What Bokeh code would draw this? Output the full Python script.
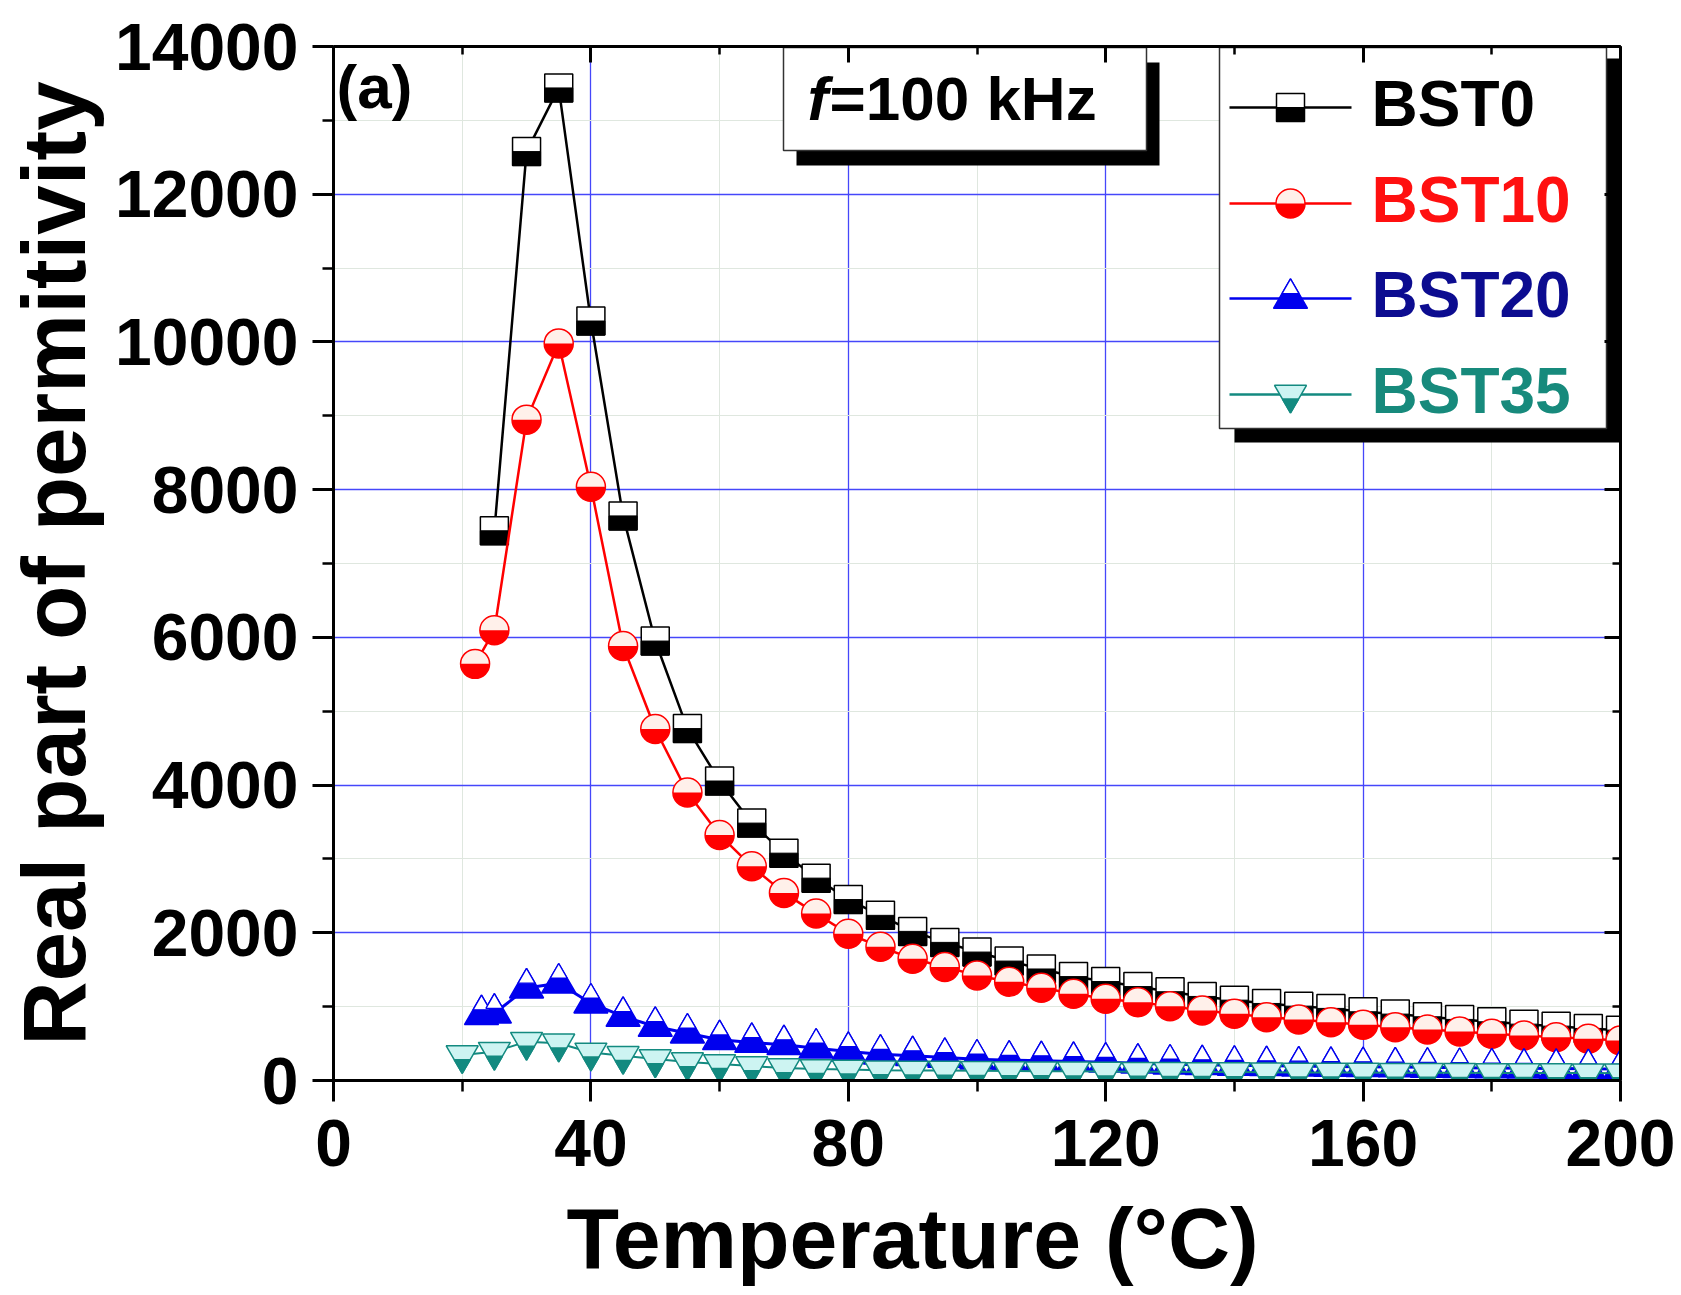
import math
from bokeh.plotting import figure
from bokeh.models import (Range1d, LinearAxis, SingleIntervalTicker, Label, Title,
                          CustomJSTickFormatter)
from bokeh.embed import file_html
from bokeh.resources import INLINE

# ---------------- data ----------------
t_bst0 = [25, 30, 35, 40, 45, 50, 55, 60, 65, 70, 75, 80, 85, 90, 95, 100, 105, 110,
          115, 120, 125, 130, 135, 140, 145, 150, 155, 160, 165, 170, 175, 180, 185,
          190, 195, 200]
bst0 = [7443, 12577, 13439, 10283, 7644, 5950, 4765, 4055, 3485, 3078, 2740, 2450,
        2236, 2019, 1870, 1739, 1617, 1510, 1407, 1340, 1272, 1202, 1138, 1088, 1043,
        1007, 976, 931, 899, 863, 827, 795, 763, 736, 705, 682]

t_bst10 = [22, 25, 30, 35, 40, 45, 50, 55, 60, 65, 70, 75, 80, 85, 90, 95, 100, 105,
           110, 115, 120, 125, 130, 135, 140, 145, 150, 155, 160, 165, 170, 175, 180,
           185, 190, 195, 200]
bst10 = [5641, 6096, 8948, 9980, 8038, 5884, 4760, 3900, 3325, 2900, 2540, 2260, 1987,
         1810, 1649, 1536, 1423, 1337, 1256, 1174, 1107, 1061, 1007, 949, 903, 858, 827,
         790, 754, 722, 691, 664, 632, 610, 587, 565, 542]

t_bst20 = [23, 25, 30, 35, 40, 45, 50, 55, 60, 65, 70, 75, 80, 85, 90, 95, 100, 105,
           110, 115, 120, 125, 130, 135, 140, 145, 150, 155, 160, 165, 170, 175, 180,
           185, 190, 195, 200]
bst20 = [890, 910, 1251, 1318, 1047, 867, 732, 641, 551, 515, 484, 438, 393, 356, 335,
         312, 289, 275, 267, 257, 248, 234, 221, 213, 205, 200, 195, 190, 186, 182, 178,
         174, 170, 166, 162, 158, 155]

t_bst35 = [20, 25, 30, 35, 40, 45, 50, 55, 60, 65, 70, 75, 80, 85, 90, 95, 100, 105,
           110, 115, 120, 125, 130, 135, 140, 145, 150, 155, 160, 165, 170, 175, 180,
           185, 190, 195, 200]
bst35 = [345, 390, 526, 504, 380, 335, 290, 250, 224, 196, 169, 156, 149, 140, 137, 134,
         131, 128, 126, 124, 122, 120, 118, 116, 114, 112, 110, 109, 108, 106, 105, 104,
         103, 102, 101, 100, 99]

series_names = ["BST0", "BST10", "BST20", "BST35"]

# ---------------- layout constants ----------------
FONT = "Liberation Sans"
FRAME_L, FRAME_T, FRAME_W, FRAME_H = 332, 46, 1287, 1034
X0, X1, Y0, Y1 = 0, 200, 0, 14000
XPP = (X1 - X0) / FRAME_W
YPP = (Y1 - Y0) / FRAME_H


def dx(px):
    return X0 + (px - FRAME_L) * XPP


def dy(py):
    return Y1 - (py - FRAME_T) * YPP


BLACK = "#000000"
RED = "#ff0000"
BLUE = "#0000ee"
TEAL = "#138a80"

SQ = 28      # square marker size (px)
CI = 29      # circle size
TR = 34      # triangle size
IT = 32      # inverted triangle size

p = figure(frame_width=FRAME_W, frame_height=FRAME_H,
           x_range=Range1d(X0, X1), y_range=Range1d(Y0, Y1),
           output_backend="svg", toolbar_location=None,
           min_border_left=FRAME_L, min_border_top=FRAME_T,
           min_border_right=1681 - FRAME_L - FRAME_W,
           min_border_bottom=1295 - FRAME_T - FRAME_H,
           background_fill_color="white", border_fill_color="white",
           outline_line_color=None)

xt = SingleIntervalTicker(interval=40, num_minor_ticks=2)
yt = SingleIntervalTicker(interval=2000, num_minor_ticks=2)

xa = p.xaxis[0]
ya = p.yaxis[0]
xa.ticker = xt
ya.ticker = yt
for ax in (xa, ya):
    ax.axis_line_width = 3
    ax.axis_line_color = "black"
    ax.major_tick_line_width = 3
    ax.minor_tick_line_width = 2.5
    ax.major_tick_in = 0
    ax.minor_tick_in = 0
    ax.major_tick_out = 21
    ax.minor_tick_out = 11
    ax.major_label_text_font = FONT
    ax.major_label_text_font_size = "66px"
    ax.major_label_text_font_style = "bold"
    ax.major_label_text_color = "black"
xa.major_label_standoff = 18
ya.major_label_standoff = 14
ya.axis_label = "Real part of permitivity"
ya.axis_label_text_font = FONT
ya.axis_label_text_font_size = "89px"
ya.axis_label_text_font_style = "bold"
ya.axis_label_text_color = "black"
ya.axis_label_standoff = 8

blank = CustomJSTickFormatter(code="return ''")
for loc, tk in (("above", SingleIntervalTicker(interval=40, num_minor_ticks=2)),
                ("right", SingleIntervalTicker(interval=2000, num_minor_ticks=2))):
    ax = LinearAxis(ticker=tk, formatter=blank)
    ax.axis_line_width = 3
    ax.major_tick_line_width = 3
    ax.minor_tick_line_width = 2.5
    ax.major_tick_in = 16
    ax.major_tick_out = 0
    ax.minor_tick_in = 8
    ax.minor_tick_out = 0
    ax.major_label_standoff = 0
    p.add_layout(ax, loc)

for g in (p.xgrid, p.ygrid):
    g.grid_line_color = "#2a2aff"
    g.grid_line_width = 1.3
    g.grid_line_alpha = 0.85
    g.minor_grid_line_color = "#dfe7df"
    g.minor_grid_line_width = 1

# x axis title (as a title panel below the axis, left-aligned like the reference)
p.add_layout(Title(text="Temperature (°C)", align="left", offset=233,
                   text_font=FONT, text_font_size="86px", text_font_style="bold",
                   text_color="black", standoff=38), "below")

# ---------------- series ----------------
a_tr = TR * math.sqrt(3) / 6
a_it = IT * math.sqrt(3) / 6


def draw_square(xs, ys):
    p.scatter(xs, ys, marker="square", size=SQ, fill_color="white",
              line_color=BLACK, line_width=1.5)
    p.rect(xs, [v - (SQ / 4) * YPP for v in ys], width=SQ, height=SQ / 2,
           width_units="screen", height_units="screen",
           fill_color=BLACK, line_color=BLACK, line_width=1)


def draw_circle(xs, ys):
    p.scatter(xs, ys, marker="circle", size=CI, fill_color="#fff0ea",
              line_color=RED, line_width=1.5)
    p.wedge(xs, ys, radius=CI / 2, radius_units="screen",
            start_angle=math.pi, end_angle=2 * math.pi,
            fill_color=RED, line_color=None)


def draw_triangle(xs, ys):
    p.scatter(xs, ys, marker="triangle", size=TR, fill_color=BLUE,
              line_color=BLUE, line_width=1.5)
    p.scatter(xs, [v + a_tr * YPP for v in ys], marker="triangle", size=TR / 2,
              fill_color="white", line_color=BLUE, line_width=1.3)


def draw_inv_triangle(xs, ys):
    p.scatter(xs, ys, marker="inverted_triangle", size=IT, fill_color="#cdf4f2",
              line_color=TEAL, line_width=1.5)
    p.scatter(xs, [v - a_it * YPP for v in ys], marker="inverted_triangle",
              size=IT / 2, fill_color=TEAL, line_color=TEAL, line_width=1.5)


p.line(t_bst0, bst0, line_color=BLACK, line_width=2.5)
draw_square(t_bst0, bst0)
p.line(t_bst10, bst10, line_color=RED, line_width=2.5)
draw_circle(t_bst10, bst10)
p.line(t_bst20, bst20, line_color=BLUE, line_width=3)
draw_triangle(t_bst20, bst20)
p.line(t_bst35, bst35, line_color=TEAL, line_width=2)
draw_inv_triangle(t_bst35, bst35)

# ---------------- legend box (manual, with shadow) ----------------
p.quad(left=[dx(1233)], right=[dx(1619)], top=[dy(58)], bottom=[dy(442)],
       fill_color="black", line_color=None)
p.quad(left=[dx(1218)], right=[dx(1605)], top=[dy(47)], bottom=[dy(428)],
       fill_color="white", line_color="#333333", line_width=1.5)

leg_py = [107, 203, 298, 394]
leg_line_col = [BLACK, RED, BLUE, TEAL]
leg_text_col = ["#000000", "#ff1010", "#0c0c90", "#178a7c"]
leg_draw = [draw_square, draw_circle, draw_triangle, draw_inv_triangle]
for name, py, lc, tc, fn in zip(series_names, leg_py, leg_line_col, leg_text_col, leg_draw):
    yv = dy(py)
    p.segment(x0=[dx(1228)], x1=[dx(1350)], y0=[yv], y1=[yv], line_color=lc, line_width=2.5)
    fn([dx(1289)], [yv])
    p.add_layout(Label(x=dx(1370), y=dy(py - 4), text=name, text_baseline="middle",
                       text_font=FONT, text_font_size="64px", text_font_style="bold",
                       text_color=tc))

# ---------------- frequency box ----------------
p.quad(left=[dx(795)], right=[dx(1158)], top=[dy(62)], bottom=[dy(165)],
       fill_color="black", line_color=None)
p.quad(left=[dx(782)], right=[dx(1145)], top=[dy(47)], bottom=[dy(150)],
       fill_color="white", line_color="#333333", line_width=1.5)
p.add_layout(Label(x=dx(806), y=dy(98), text="f", text_baseline="middle",
                   text_font=FONT, text_font_size="62px", text_font_style="bold italic",
                   text_color="black"))
p.add_layout(Label(x=dx(828), y=dy(98), text="=100 kHz", text_baseline="middle",
                   text_font=FONT, text_font_size="62px", text_font_style="bold",
                   text_color="black"))

# panel tag
p.add_layout(Label(x=dx(335), y=dy(86), text="(a)", text_baseline="middle",
                   text_font=FONT, text_font_size="62px", text_font_style="bold",
                   text_color="black"))

open("out.html", "w").write(file_html(p, INLINE))
